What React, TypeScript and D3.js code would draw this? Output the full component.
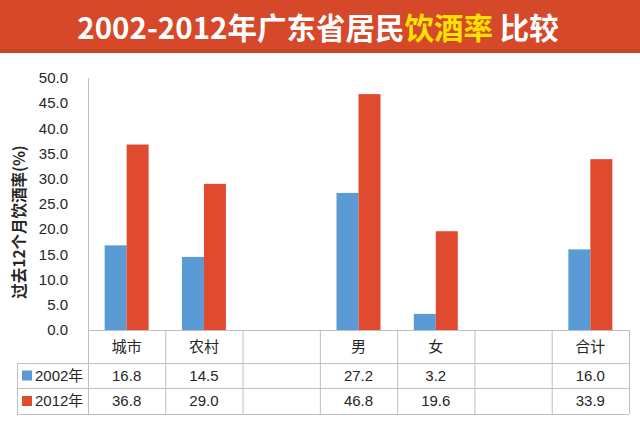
import React from 'react';
import * as d3 from 'd3';

const categories = ['城市', '农村', '', '男', '女', '', '合计'];
const seriesNames = ['2002年', '2012年'];
const values2002: (number | null)[] = [16.8, 14.5, null, 27.2, 3.2, null, 16.0];
const values2012: (number | null)[] = [36.8, 29.0, null, 46.8, 19.6, null, 33.9];
const yTicks = [0, 5, 10, 15, 20, 25, 30, 35, 40, 45, 50];
const titlePre = '2002-2012年广东省居民';
const titleHi = '饮酒率';
const titlePost = ' 比较';
const yLabel = '过去12个月饮酒率(%)';

const W = 640;
const H = 424;
const BLUE = '#5b9bd5';
const RED = '#e04a2f';
const LINE = '#bfbfbf';
const TXT = '#262626';

export default function App() {
  const x0 = 88;
  const x1 = 629;
  const yTop = 78;
  const yZero = 330;
  const rowH = 363;
  const rowM = 388;
  const rowB = 414;
  const legL = 17;

  const x = d3.scaleBand<number>().domain(categories.map((_, i) => i)).range([x0, x1]).paddingInner(0).paddingOuter(0);
  const xs = d3.scaleBand<string>().domain(seriesNames).range([0, x.bandwidth()]).paddingInner(0).paddingOuter(0.757);
  const y = d3.scaleLinear().domain([0, 50]).range([yZero, yTop]);
  const fmt = d3.format('.1f');
  const series = [
    { name: seriesNames[0], values: values2002, color: BLUE },
    { name: seriesNames[1], values: values2012, color: RED },
  ];
  const fontNum = '"Liberation Sans", Arial, "Noto Sans CJK SC", sans-serif';
  const fontCJK = '"Noto Sans CJK SC", "Liberation Sans", sans-serif';

  const boundaries = d3.range(categories.length + 1).map((i) => (i < categories.length ? x(i)! : x1));

  return (
    <svg width={W} height={H} style={{ position: 'absolute', left: 0, top: 0, background: '#fff' }}>
      {/* Banner */}
      <rect x={0} y={0} width={W} height={53} fill="#d6482a" />
      <rect x={0} y={49} width={W} height={4} fill="#c94226" />
      <text x={318} y={39} textAnchor="middle" fontFamily={fontCJK} fontWeight="bold" fontSize={29.5} fill="#fff">
        <tspan>{titlePre}</tspan>
        <tspan fill="#ffe200">{titleHi}</tspan>
        <tspan>{titlePost}</tspan>
      </text>

      {/* Y axis */}
      <line x1={x0 + 0.5} x2={x0 + 0.5} y1={yTop} y2={rowB} stroke={LINE} />
      {yTicks.map((t) => (
        <text key={t} x={68} y={y(t)} dy="0.35em" textAnchor="end" fontFamily={fontNum} fontSize={15} fill={TXT}>
          {fmt(t)}
        </text>
      ))}
      <text
        transform={`translate(20,${222}) rotate(-90)`}
        textAnchor="middle"
        dy="0.35em"
        fontFamily={fontCJK}
        fontWeight="bold"
        fontSize={15.5}
        fill={TXT}
      >
        {yLabel}
      </text>

      {/* Bars */}
      {series.map((s) =>
        s.values.map((v, i) =>
          v == null ? null : (
            <rect
              key={s.name + i}
              x={x(i)! + xs(s.name)!}
              y={y(v)}
              width={xs.bandwidth()}
              height={yZero - y(v)}
              fill={s.color}
            />
          )
        )
      )}

      {/* Table lines */}
      <line x1={x0} x2={x1} y1={yZero + 0.5} y2={yZero + 0.5} stroke={LINE} />
      {[rowH, rowM, rowB].map((yy) => (
        <line key={yy} x1={legL} x2={x1} y1={yy + 0.5} y2={yy + 0.5} stroke={LINE} />
      ))}
      <line x1={legL + 0.5} x2={legL + 0.5} y1={rowH} y2={rowB} stroke={LINE} />
      {boundaries.slice(1).map((bx, i) => (
        <line key={i} x1={bx + 0.5} x2={bx + 0.5} y1={yZero} y2={rowB} stroke={LINE} />
      ))}

      {/* Header row */}
      {categories.map((c, i) => (
        <text
          key={'h' + i}
          x={x(i)! + x.bandwidth() / 2}
          y={(yZero + rowH) / 2}
          dy="0.35em"
          textAnchor="middle"
          fontFamily={fontCJK}
          fontSize={15}
          fill={TXT}
        >
          {c}
        </text>
      ))}

      {/* Data rows */}
      {series.map((s, r) => {
        const top = r === 0 ? rowH : rowM;
        const bot = r === 0 ? rowM : rowB;
        const cy = (top + bot) / 2;
        return (
          <g key={s.name}>
            <rect x={22} y={cy - 5} width={10} height={10} fill={s.color} />
            <text x={35} y={cy} dy="0.35em" fontFamily={fontNum} fontSize={15} fill={TXT}>
              {s.name}
            </text>
            {s.values.map((v, i) =>
              v == null ? null : (
                <text
                  key={i}
                  x={x(i)! + x.bandwidth() / 2}
                  y={cy}
                  dy="0.35em"
                  textAnchor="middle"
                  fontFamily={fontNum}
                  fontSize={15}
                  fill={TXT}
                >
                  {fmt(v)}
                </text>
              )
            )}
          </g>
        );
      })}
    </svg>
  );
}
